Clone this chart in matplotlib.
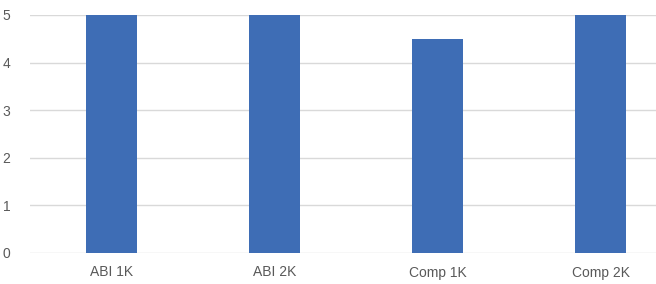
import numpy as np
import matplotlib.pyplot as plt

categories = ['ABI 1K', 'ABI 2K', 'Comp 1K', 'Comp 2K']
values = [5, 5, 4.5, 5]

plt.rcParams['font.family'] = ['Liberation Sans', 'DejaVu Sans']

fig = plt.figure(figsize=(6.56, 2.84), dpi=100)
ax = fig.add_axes([30 / 656, 1 - 253 / 284, 626 / 656, 238 / 284])

x = np.arange(len(categories))
ax.bar(x, values, width=0.313, color='#3E6DB5', zorder=3)

ax.set_ylim(0, 5)
ax.set_xlim(-0.5, 3.5 - 26 / 163)
ax.set_yticks(range(6))
ax.set_xticks(x)
ax.set_xticklabels(categories)
ax.grid(axis='y', color='#D9D9D9', lw=1, zorder=0)
ax.set_axisbelow(True)
for s in ax.spines.values():
    s.set_visible(False)
ax.tick_params(axis='both', length=0, labelsize=10, colors='#595959')
ax.tick_params(axis='y', pad=14)
ax.tick_params(axis='x', pad=9)

fig.savefig('out.png', dpi=100)
